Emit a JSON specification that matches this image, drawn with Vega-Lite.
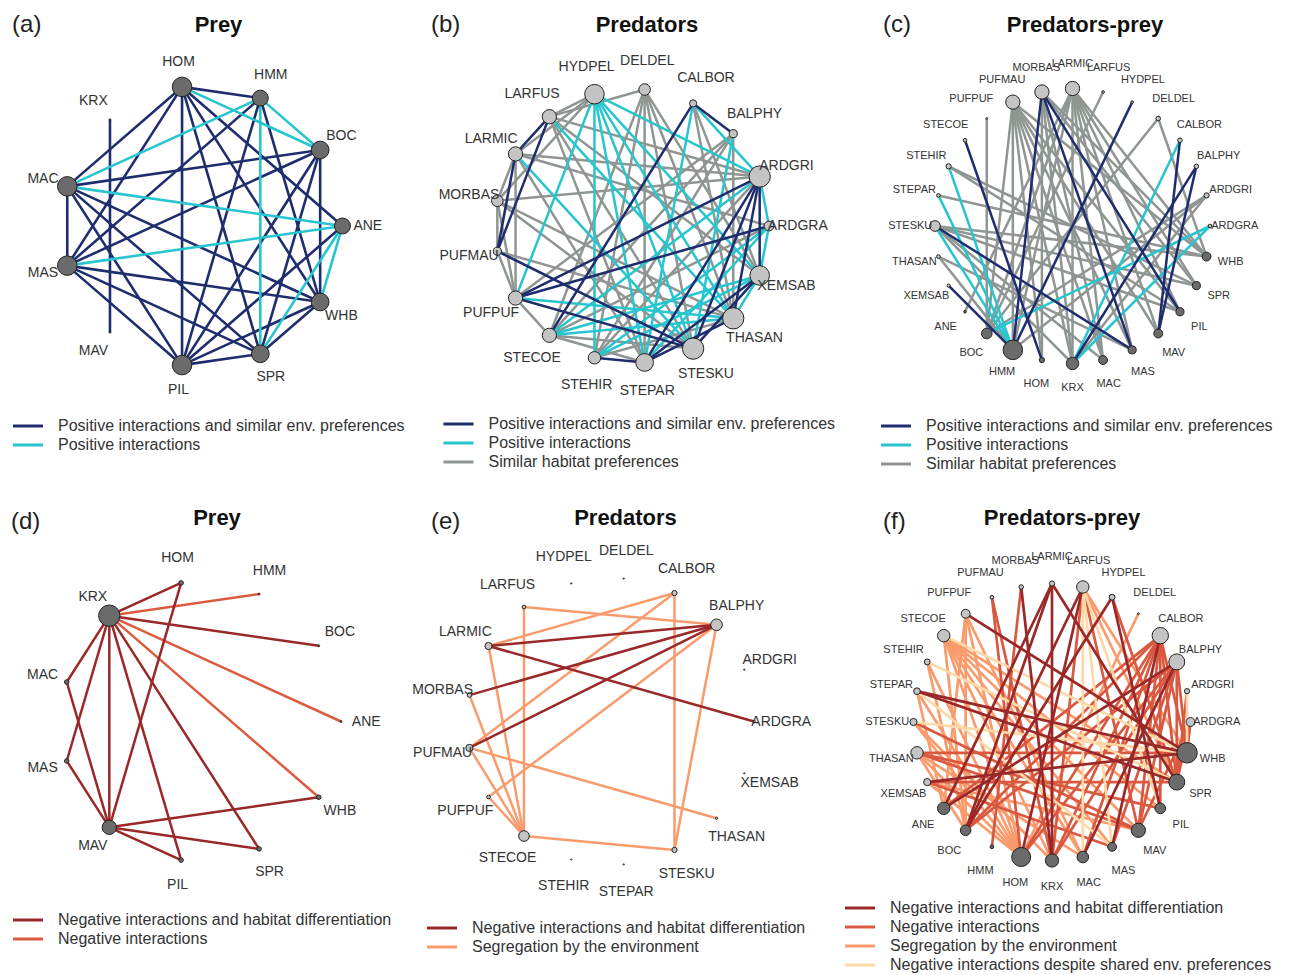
{
  "$schema": "https://vega.github.io/schema/vega-lite/v6.json",
  "background": "white",
  "padding": 0,
  "autosize": {"type": "pad"},
  "columns": 3,
  "spacing": 0,
  "bounds": "flush",
  "config": {
    "view": {"stroke": "transparent"},
    "font": "Liberation Sans",
    "title": {"fontSize": 22, "fontWeight": "bold", "color": "#111111", "anchor": "middle", "frame": "group", "baseline": "alphabetic"},
    "legend": {
      "orient": "none", "direction": "vertical", "padding": 0,
      "labelFontSize": 16, "labelColor": "#333333", "labelLimit": 600,
      "symbolType": "M-2,0H2", "symbolSize": 225, "symbolStrokeWidth": 3,
      "labelOffset": 21, "rowPadding": 2
    }
  },
  "resolve": {
    "scale": {"x": "independent", "y": "independent", "color": "independent", "size": "independent", "fill": "independent"},
    "legend": {"color": "independent"}
  },
  "datasets": {
    "prey_layout": [
      {"id": "ANE", "x": 1, "y": 0, "group": "prey"},
      {"id": "BOC", "x": 0.841, "y": 0.541, "group": "prey"},
      {"id": "HMM", "x": 0.415, "y": 0.91, "group": "prey"},
      {"id": "HOM", "x": -0.142, "y": 0.99, "group": "prey"},
      {"id": "KRX", "x": -0.655, "y": 0.756, "group": "prey"},
      {"id": "MAC", "x": -0.959, "y": 0.282, "group": "prey"},
      {"id": "MAS", "x": -0.959, "y": -0.282, "group": "prey"},
      {"id": "MAV", "x": -0.655, "y": -0.756, "group": "prey"},
      {"id": "PIL", "x": -0.142, "y": -0.99, "group": "prey"},
      {"id": "SPR", "x": 0.415, "y": -0.91, "group": "prey"},
      {"id": "WHB", "x": 0.841, "y": -0.541, "group": "prey"}
    ],
    "pred_layout": [
      {"id": "ARDGRA", "x": 1, "y": 0, "group": "predator"},
      {"id": "ARDGRI", "x": 0.932, "y": 0.361, "group": "predator"},
      {"id": "BALPHY", "x": 0.739, "y": 0.674, "group": "predator"},
      {"id": "CALBOR", "x": 0.446, "y": 0.895, "group": "predator"},
      {"id": "DELDEL", "x": 0.092, "y": 0.996, "group": "predator"},
      {"id": "HYDPEL", "x": -0.274, "y": 0.962, "group": "predator"},
      {"id": "LARFUS", "x": -0.603, "y": 0.798, "group": "predator"},
      {"id": "LARMIC", "x": -0.85, "y": 0.526, "group": "predator"},
      {"id": "MORBAS", "x": -0.983, "y": 0.184, "group": "predator"},
      {"id": "PUFMAU", "x": -0.983, "y": -0.184, "group": "predator"},
      {"id": "PUFPUF", "x": -0.85, "y": -0.526, "group": "predator"},
      {"id": "STECOE", "x": -0.603, "y": -0.798, "group": "predator"},
      {"id": "STEHIR", "x": -0.274, "y": -0.962, "group": "predator"},
      {"id": "STEPAR", "x": 0.092, "y": -0.996, "group": "predator"},
      {"id": "STESKU", "x": 0.446, "y": -0.895, "group": "predator"},
      {"id": "THASAN", "x": 0.739, "y": -0.674, "group": "predator"},
      {"id": "XEMSAB", "x": 0.932, "y": -0.361, "group": "predator"}
    ],
    "pp_layout": [
      {"id": "ARDGRA", "x": 1, "y": 0, "group": "predator"},
      {"id": "ARDGRI", "x": 0.9749, "y": 0.2225, "group": "predator"},
      {"id": "BALPHY", "x": 0.901, "y": 0.4339, "group": "predator"},
      {"id": "CALBOR", "x": 0.7818, "y": 0.6235, "group": "predator"},
      {"id": "DELDEL", "x": 0.6235, "y": 0.7818, "group": "predator"},
      {"id": "HYDPEL", "x": 0.4339, "y": 0.901, "group": "predator"},
      {"id": "LARFUS", "x": 0.2225, "y": 0.9749, "group": "predator"},
      {"id": "LARMIC", "x": 0, "y": 1, "group": "predator"},
      {"id": "MORBAS", "x": -0.2225, "y": 0.9749, "group": "predator"},
      {"id": "PUFMAU", "x": -0.4339, "y": 0.901, "group": "predator"},
      {"id": "PUFPUF", "x": -0.6235, "y": 0.7818, "group": "predator"},
      {"id": "STECOE", "x": -0.7818, "y": 0.6235, "group": "predator"},
      {"id": "STEHIR", "x": -0.901, "y": 0.4339, "group": "predator"},
      {"id": "STEPAR", "x": -0.9749, "y": 0.2225, "group": "predator"},
      {"id": "STESKU", "x": -1, "y": 0, "group": "predator"},
      {"id": "THASAN", "x": -0.9749, "y": -0.2225, "group": "predator"},
      {"id": "XEMSAB", "x": -0.901, "y": -0.4339, "group": "predator"},
      {"id": "ANE", "x": -0.7818, "y": -0.6235, "group": "prey"},
      {"id": "BOC", "x": -0.6235, "y": -0.7818, "group": "prey"},
      {"id": "HMM", "x": -0.4339, "y": -0.901, "group": "prey"},
      {"id": "HOM", "x": -0.2225, "y": -0.9749, "group": "prey"},
      {"id": "KRX", "x": 0, "y": -1, "group": "prey"},
      {"id": "MAC", "x": 0.2225, "y": -0.9749, "group": "prey"},
      {"id": "MAS", "x": 0.4339, "y": -0.901, "group": "prey"},
      {"id": "MAV", "x": 0.6235, "y": -0.7818, "group": "prey"},
      {"id": "PIL", "x": 0.7818, "y": -0.6235, "group": "prey"},
      {"id": "SPR", "x": 0.901, "y": -0.4339, "group": "prey"},
      {"id": "WHB", "x": 0.9749, "y": -0.2225, "group": "prey"}
    ],
    "nodes_a": [
      {"id": "HOM", "centrality": 11.1}, {"id": "HMM", "centrality": 7.4}, {"id": "BOC", "centrality": 9.1},
      {"id": "ANE", "centrality": 7.4}, {"id": "WHB", "centrality": 9.1}, {"id": "SPR", "centrality": 9.1},
      {"id": "PIL", "centrality": 11.1}, {"id": "MAV", "centrality": 0.1}, {"id": "MAS", "centrality": 11.1},
      {"id": "MAC", "centrality": 11.1}, {"id": "KRX", "centrality": 0.1}
    ],
    "nodes_d": [
      {"id": "HOM", "centrality": 0.6}, {"id": "HMM", "centrality": 0.1}, {"id": "BOC", "centrality": 0.1},
      {"id": "ANE", "centrality": 0.1}, {"id": "WHB", "centrality": 0.6}, {"id": "SPR", "centrality": 0.6},
      {"id": "PIL", "centrality": 0.6}, {"id": "MAV", "centrality": 5.9}, {"id": "MAS", "centrality": 0.6},
      {"id": "MAC", "centrality": 0.6}, {"id": "KRX", "centrality": 13.2}
    ],
    "nodes_b": [
      {"id": "HYDPEL", "centrality": 11.1}, {"id": "DELDEL", "centrality": 3.9}, {"id": "CALBOR", "centrality": 1.5},
      {"id": "BALPHY", "centrality": 1.9}, {"id": "ARDGRI", "centrality": 13.2}, {"id": "ARDGRA", "centrality": 2.8},
      {"id": "XEMSAB", "centrality": 11.1}, {"id": "THASAN", "centrality": 13.2}, {"id": "STESKU", "centrality": 13.2},
      {"id": "STEPAR", "centrality": 9.1}, {"id": "STEHIR", "centrality": 4.5}, {"id": "STECOE", "centrality": 5.9},
      {"id": "PUFPUF", "centrality": 5.9}, {"id": "PUFMAU", "centrality": 1.9}, {"id": "MORBAS", "centrality": 3.9},
      {"id": "LARMIC", "centrality": 5.9}, {"id": "LARFUS", "centrality": 5.9}
    ],
    "nodes_e": [
      {"id": "HYDPEL", "centrality": 0.05}, {"id": "DELDEL", "centrality": 0.05}, {"id": "CALBOR", "centrality": 0.8},
      {"id": "BALPHY", "centrality": 3.9}, {"id": "ARDGRI", "centrality": 0.05}, {"id": "ARDGRA", "centrality": 0.2},
      {"id": "XEMSAB", "centrality": 0.05}, {"id": "THASAN", "centrality": 0.15}, {"id": "STESKU", "centrality": 0.8},
      {"id": "STEPAR", "centrality": 0.05}, {"id": "STEHIR", "centrality": 0.05}, {"id": "STECOE", "centrality": 3.3},
      {"id": "PUFPUF", "centrality": 0.4}, {"id": "PUFMAU", "centrality": 1.5}, {"id": "MORBAS", "centrality": 0.6},
      {"id": "LARMIC", "centrality": 1.5}, {"id": "LARFUS", "centrality": 0.4}
    ],
    "nodes_c": [
      {"id": "ARDGRA", "centrality": 0.4}, {"id": "ARDGRI", "centrality": 0.8}, {"id": "BALPHY", "centrality": 0.6},
      {"id": "CALBOR", "centrality": 0.6}, {"id": "DELDEL", "centrality": 0.6}, {"id": "HYDPEL", "centrality": 0.2},
      {"id": "LARFUS", "centrality": 0.2}, {"id": "LARMIC", "centrality": 5.9}, {"id": "MORBAS", "centrality": 5.9},
      {"id": "PUFMAU", "centrality": 5.9}, {"id": "PUFPUF", "centrality": 0.1}, {"id": "STECOE", "centrality": 0.4},
      {"id": "STEHIR", "centrality": 0.8}, {"id": "STEPAR", "centrality": 0.4}, {"id": "STESKU", "centrality": 3.3},
      {"id": "THASAN", "centrality": 0.4}, {"id": "XEMSAB", "centrality": 0.3}, {"id": "ANE", "centrality": 0.2},
      {"id": "BOC", "centrality": 3.3}, {"id": "HMM", "centrality": 11.1}, {"id": "HOM", "centrality": 0.8},
      {"id": "KRX", "centrality": 4.5}, {"id": "MAC", "centrality": 2.3}, {"id": "MAS", "centrality": 1.9},
      {"id": "MAV", "centrality": 2.3}, {"id": "PIL", "centrality": 1.9}, {"id": "SPR", "centrality": 1.9},
      {"id": "WHB", "centrality": 2.3}
    ],
    "nodes_f": [
      {"id": "ARDGRA", "centrality": 2.3}, {"id": "ARDGRI", "centrality": 0.8}, {"id": "BALPHY", "centrality": 7.4},
      {"id": "CALBOR", "centrality": 7.8}, {"id": "DELDEL", "centrality": 0.1}, {"id": "HYDPEL", "centrality": 1.0},
      {"id": "LARFUS", "centrality": 4.5}, {"id": "LARMIC", "centrality": 0.8}, {"id": "MORBAS", "centrality": 0.6},
      {"id": "PUFMAU", "centrality": 0.4}, {"id": "PUFPUF", "centrality": 2.3}, {"id": "STECOE", "centrality": 4.5},
      {"id": "STEHIR", "centrality": 1.0}, {"id": "STEPAR", "centrality": 1.3}, {"id": "STESKU", "centrality": 1.5},
      {"id": "THASAN", "centrality": 4.5}, {"id": "XEMSAB", "centrality": 1.5}, {"id": "ANE", "centrality": 4.5},
      {"id": "BOC", "centrality": 3.3}, {"id": "HMM", "centrality": 0.4}, {"id": "HOM", "centrality": 10.5},
      {"id": "KRX", "centrality": 5.1}, {"id": "MAC", "centrality": 3.9}, {"id": "MAS", "centrality": 2.3},
      {"id": "MAV", "centrality": 5.9}, {"id": "PIL", "centrality": 3.3}, {"id": "SPR", "centrality": 7.4},
      {"id": "WHB", "centrality": 12.2}
    ],
    "edges_a": [
      {"source": "KRX", "target": "MAV", "type": "PE"}, {"source": "MAC", "target": "MAS", "type": "PE"},
      {"source": "HOM", "target": "HMM", "type": "PE"}, {"source": "HOM", "target": "PIL", "type": "PE"},
      {"source": "HOM", "target": "MAC", "type": "PE"}, {"source": "HOM", "target": "MAS", "type": "PE"},
      {"source": "HOM", "target": "ANE", "type": "PE"}, {"source": "HOM", "target": "WHB", "type": "PE"},
      {"source": "HOM", "target": "SPR", "type": "PE"}, {"source": "HMM", "target": "WHB", "type": "PE"},
      {"source": "HMM", "target": "MAS", "type": "PE"}, {"source": "HMM", "target": "PIL", "type": "PE"},
      {"source": "BOC", "target": "WHB", "type": "PE"}, {"source": "BOC", "target": "MAC", "type": "PE"},
      {"source": "BOC", "target": "MAS", "type": "PE"}, {"source": "BOC", "target": "SPR", "type": "PE"},
      {"source": "BOC", "target": "PIL", "type": "PE"}, {"source": "ANE", "target": "PIL", "type": "PE"},
      {"source": "WHB", "target": "MAS", "type": "PE"}, {"source": "WHB", "target": "MAC", "type": "PE"},
      {"source": "WHB", "target": "SPR", "type": "PE"}, {"source": "WHB", "target": "PIL", "type": "PE"},
      {"source": "SPR", "target": "MAC", "type": "PE"}, {"source": "SPR", "target": "MAS", "type": "PE"},
      {"source": "SPR", "target": "PIL", "type": "PE"}, {"source": "PIL", "target": "MAC", "type": "PE"},
      {"source": "PIL", "target": "MAS", "type": "PE"},
      {"source": "HOM", "target": "BOC", "type": "P"}, {"source": "HMM", "target": "BOC", "type": "P"},
      {"source": "HMM", "target": "MAC", "type": "P"}, {"source": "HMM", "target": "SPR", "type": "P"},
      {"source": "ANE", "target": "MAC", "type": "P"}, {"source": "ANE", "target": "MAS", "type": "P"},
      {"source": "ANE", "target": "WHB", "type": "P"}, {"source": "ANE", "target": "SPR", "type": "P"}
    ],
    "edges_d": [
      {"source": "KRX", "target": "HMM", "type": "N"}, {"source": "KRX", "target": "ANE", "type": "N"},
      {"source": "KRX", "target": "WHB", "type": "N"},
      {"source": "KRX", "target": "HOM", "type": "NH"}, {"source": "KRX", "target": "BOC", "type": "NH"},
      {"source": "KRX", "target": "SPR", "type": "NH"}, {"source": "KRX", "target": "PIL", "type": "NH"},
      {"source": "KRX", "target": "MAC", "type": "NH"}, {"source": "KRX", "target": "MAS", "type": "NH"},
      {"source": "KRX", "target": "MAV", "type": "NH"}, {"source": "HOM", "target": "MAV", "type": "NH"},
      {"source": "MAC", "target": "MAV", "type": "NH"}, {"source": "MAS", "target": "MAV", "type": "NH"},
      {"source": "MAV", "target": "WHB", "type": "NH"}, {"source": "MAV", "target": "SPR", "type": "NH"},
      {"source": "MAV", "target": "PIL", "type": "NH"}
    ],
    "edges_b": [
      {"source": "HYDPEL", "target": "LARFUS", "type": "E"}, {"source": "HYDPEL", "target": "LARMIC", "type": "E"},
      {"source": "HYDPEL", "target": "MORBAS", "type": "E"}, {"source": "DELDEL", "target": "LARFUS", "type": "E"},
      {"source": "DELDEL", "target": "STEPAR", "type": "E"}, {"source": "DELDEL", "target": "STESKU", "type": "E"},
      {"source": "DELDEL", "target": "THASAN", "type": "E"}, {"source": "DELDEL", "target": "STEHIR", "type": "E"},
      {"source": "DELDEL", "target": "STECOE", "type": "E"}, {"source": "DELDEL", "target": "XEMSAB", "type": "E"},
      {"source": "CALBOR", "target": "THASAN", "type": "E"}, {"source": "CALBOR", "target": "XEMSAB", "type": "E"},
      {"source": "BALPHY", "target": "STECOE", "type": "E"}, {"source": "BALPHY", "target": "STEHIR", "type": "E"},
      {"source": "BALPHY", "target": "THASAN", "type": "E"}, {"source": "BALPHY", "target": "PUFPUF", "type": "E"},
      {"source": "LARFUS", "target": "ARDGRI", "type": "E"}, {"source": "LARMIC", "target": "ARDGRI", "type": "E"},
      {"source": "MORBAS", "target": "ARDGRI", "type": "E"}, {"source": "LARFUS", "target": "XEMSAB", "type": "E"},
      {"source": "LARFUS", "target": "STEPAR", "type": "E"}, {"source": "LARFUS", "target": "STESKU", "type": "E"},
      {"source": "MORBAS", "target": "PUFPUF", "type": "E"}, {"source": "LARMIC", "target": "MORBAS", "type": "E"},
      {"source": "MORBAS", "target": "PUFMAU", "type": "E"}, {"source": "PUFMAU", "target": "PUFPUF", "type": "E"},
      {"source": "LARMIC", "target": "PUFPUF", "type": "E"}, {"source": "MORBAS", "target": "STESKU", "type": "E"},
      {"source": "MORBAS", "target": "THASAN", "type": "E"}, {"source": "STECOE", "target": "STESKU", "type": "E"},
      {"source": "STECOE", "target": "STEPAR", "type": "E"}, {"source": "STEHIR", "target": "THASAN", "type": "E"},
      {"source": "LARMIC", "target": "STEPAR", "type": "E"}, {"source": "ARDGRI", "target": "STEHIR", "type": "E"},
      {"source": "PUFMAU", "target": "THASAN", "type": "E"}, {"source": "STECOE", "target": "ARDGRA", "type": "E"},
      {"source": "LARMIC", "target": "ARDGRA", "type": "E"}, {"source": "PUFPUF", "target": "STECOE", "type": "E"},
      {"source": "HYDPEL", "target": "PUFPUF", "type": "P"}, {"source": "HYDPEL", "target": "STEHIR", "type": "P"},
      {"source": "HYDPEL", "target": "STEPAR", "type": "P"}, {"source": "HYDPEL", "target": "STESKU", "type": "P"},
      {"source": "HYDPEL", "target": "THASAN", "type": "P"}, {"source": "HYDPEL", "target": "XEMSAB", "type": "P"},
      {"source": "HYDPEL", "target": "ARDGRI", "type": "P"}, {"source": "LARFUS", "target": "THASAN", "type": "P"},
      {"source": "LARMIC", "target": "STESKU", "type": "P"}, {"source": "CALBOR", "target": "ARDGRI", "type": "P"},
      {"source": "CALBOR", "target": "STEPAR", "type": "P"}, {"source": "STECOE", "target": "ARDGRI", "type": "P"},
      {"source": "STECOE", "target": "XEMSAB", "type": "P"}, {"source": "STECOE", "target": "THASAN", "type": "P"},
      {"source": "STEHIR", "target": "XEMSAB", "type": "P"}, {"source": "STEHIR", "target": "ARDGRA", "type": "P"},
      {"source": "PUFPUF", "target": "THASAN", "type": "P"}, {"source": "ARDGRI", "target": "ARDGRA", "type": "P"},
      {"source": "ARDGRA", "target": "XEMSAB", "type": "P"}, {"source": "XEMSAB", "target": "THASAN", "type": "P"},
      {"source": "BALPHY", "target": "STESKU", "type": "P"}, {"source": "STEPAR", "target": "ARDGRA", "type": "P"},
      {"source": "LARFUS", "target": "LARMIC", "type": "PE"}, {"source": "LARFUS", "target": "PUFMAU", "type": "PE"},
      {"source": "LARMIC", "target": "PUFMAU", "type": "PE"}, {"source": "CALBOR", "target": "BALPHY", "type": "PE"},
      {"source": "CALBOR", "target": "STECOE", "type": "PE"}, {"source": "PUFPUF", "target": "ARDGRI", "type": "PE"},
      {"source": "PUFPUF", "target": "ARDGRA", "type": "PE"}, {"source": "PUFPUF", "target": "STESKU", "type": "PE"},
      {"source": "PUFMAU", "target": "STESKU", "type": "PE"}, {"source": "ARDGRI", "target": "XEMSAB", "type": "PE"},
      {"source": "ARDGRI", "target": "STEPAR", "type": "PE"}, {"source": "ARDGRI", "target": "STESKU", "type": "PE"},
      {"source": "ARDGRI", "target": "THASAN", "type": "PE"}, {"source": "STEHIR", "target": "STEPAR", "type": "PE"},
      {"source": "STEPAR", "target": "XEMSAB", "type": "PE"}, {"source": "STEPAR", "target": "THASAN", "type": "PE"},
      {"source": "STESKU", "target": "XEMSAB", "type": "PE"}
    ],
    "edges_e": [
      {"source": "LARFUS", "target": "BALPHY", "type": "S"}, {"source": "LARFUS", "target": "STECOE", "type": "S"},
      {"source": "LARMIC", "target": "CALBOR", "type": "S"}, {"source": "LARMIC", "target": "STECOE", "type": "S"},
      {"source": "MORBAS", "target": "STECOE", "type": "S"}, {"source": "PUFMAU", "target": "STECOE", "type": "S"},
      {"source": "PUFMAU", "target": "CALBOR", "type": "S"}, {"source": "PUFMAU", "target": "THASAN", "type": "S"},
      {"source": "PUFPUF", "target": "STECOE", "type": "S"}, {"source": "PUFPUF", "target": "BALPHY", "type": "S"},
      {"source": "CALBOR", "target": "STESKU", "type": "S"}, {"source": "BALPHY", "target": "STESKU", "type": "S"},
      {"source": "STECOE", "target": "STESKU", "type": "S"},
      {"source": "LARMIC", "target": "BALPHY", "type": "NH"}, {"source": "LARMIC", "target": "ARDGRA", "type": "NH"},
      {"source": "MORBAS", "target": "BALPHY", "type": "NH"}, {"source": "PUFMAU", "target": "BALPHY", "type": "NH"}
    ],
    "edges_c": [
      {"source": "PUFMAU", "target": "BOC", "type": "E"}, {"source": "PUFMAU", "target": "HMM", "type": "E"},
      {"source": "PUFMAU", "target": "HOM", "type": "E"}, {"source": "PUFMAU", "target": "KRX", "type": "E"},
      {"source": "PUFMAU", "target": "MAC", "type": "E"}, {"source": "PUFMAU", "target": "MAS", "type": "E"},
      {"source": "PUFMAU", "target": "MAV", "type": "E"}, {"source": "PUFMAU", "target": "PIL", "type": "E"},
      {"source": "PUFMAU", "target": "WHB", "type": "E"}, {"source": "MORBAS", "target": "HOM", "type": "E"},
      {"source": "MORBAS", "target": "KRX", "type": "E"}, {"source": "MORBAS", "target": "MAC", "type": "E"},
      {"source": "MORBAS", "target": "SPR", "type": "E"}, {"source": "MORBAS", "target": "WHB", "type": "E"},
      {"source": "LARMIC", "target": "HMM", "type": "E"}, {"source": "LARMIC", "target": "KRX", "type": "E"},
      {"source": "LARMIC", "target": "MAC", "type": "E"}, {"source": "LARMIC", "target": "MAS", "type": "E"},
      {"source": "LARMIC", "target": "MAV", "type": "E"}, {"source": "LARMIC", "target": "PIL", "type": "E"},
      {"source": "LARMIC", "target": "SPR", "type": "E"}, {"source": "LARMIC", "target": "WHB", "type": "E"},
      {"source": "LARMIC", "target": "BOC", "type": "E"}, {"source": "LARMIC", "target": "ANE", "type": "E"},
      {"source": "LARFUS", "target": "BOC", "type": "E"}, {"source": "DELDEL", "target": "BOC", "type": "E"},
      {"source": "DELDEL", "target": "WHB", "type": "E"}, {"source": "ARDGRI", "target": "HMM", "type": "E"},
      {"source": "ARDGRI", "target": "KRX", "type": "E"}, {"source": "ARDGRI", "target": "BOC", "type": "E"},
      {"source": "STEHIR", "target": "SPR", "type": "E"}, {"source": "STEHIR", "target": "PIL", "type": "E"},
      {"source": "STEPAR", "target": "WHB", "type": "E"},
      {"source": "STESKU", "target": "WHB", "type": "E"}, {"source": "STESKU", "target": "SPR", "type": "E"},
      {"source": "STESKU", "target": "PIL", "type": "E"}, {"source": "STESKU", "target": "MAC", "type": "E"},
      {"source": "STESKU", "target": "KRX", "type": "E"}, {"source": "THASAN", "target": "HMM", "type": "E"},
      {"source": "THASAN", "target": "MAS", "type": "E"}, {"source": "PUFPUF", "target": "BOC", "type": "E"},
      {"source": "STEHIR", "target": "HMM", "type": "P"}, {"source": "STEPAR", "target": "HMM", "type": "P"},
      {"source": "STESKU", "target": "HMM", "type": "P"}, {"source": "ARDGRA", "target": "BOC", "type": "P"},
      {"source": "ARDGRA", "target": "KRX", "type": "P"}, {"source": "CALBOR", "target": "KRX", "type": "P"},
      {"source": "STECOE", "target": "HOM", "type": "PE"}, {"source": "XEMSAB", "target": "HMM", "type": "PE"},
      {"source": "HYDPEL", "target": "HMM", "type": "PE"}, {"source": "MORBAS", "target": "HMM", "type": "PE"},
      {"source": "MORBAS", "target": "PIL", "type": "PE"}, {"source": "MORBAS", "target": "MAS", "type": "PE"},
      {"source": "CALBOR", "target": "MAV", "type": "PE"}, {"source": "BALPHY", "target": "MAV", "type": "PE"},
      {"source": "BALPHY", "target": "KRX", "type": "PE"}, {"source": "STESKU", "target": "MAS", "type": "PE"}
    ],
    "edges_f": [
      {"source": "STECOE", "target": "HOM", "type": "S"}, {"source": "STECOE", "target": "KRX", "type": "S"},
      {"source": "STECOE", "target": "BOC", "type": "S"}, {"source": "STECOE", "target": "MAC", "type": "S"},
      {"source": "STECOE", "target": "MAS", "type": "S"}, {"source": "STECOE", "target": "MAV", "type": "S"},
      {"source": "STECOE", "target": "SPR", "type": "S"}, {"source": "STECOE", "target": "PIL", "type": "S"},
      {"source": "STEHIR", "target": "HOM", "type": "S"}, {"source": "STEHIR", "target": "BOC", "type": "S"},
      {"source": "STEPAR", "target": "HOM", "type": "S"}, {"source": "STEPAR", "target": "ANE", "type": "S"},
      {"source": "STESKU", "target": "HOM", "type": "S"}, {"source": "STESKU", "target": "KRX", "type": "S"},
      {"source": "THASAN", "target": "HOM", "type": "S"}, {"source": "THASAN", "target": "MAC", "type": "S"},
      {"source": "THASAN", "target": "BOC", "type": "S"}, {"source": "XEMSAB", "target": "HOM", "type": "S"},
      {"source": "XEMSAB", "target": "MAV", "type": "S"}, {"source": "PUFPUF", "target": "HOM", "type": "S"},
      {"source": "PUFPUF", "target": "MAC", "type": "S"}, {"source": "PUFPUF", "target": "BOC", "type": "S"},
      {"source": "PUFPUF", "target": "ANE", "type": "S"}, {"source": "DELDEL", "target": "HOM", "type": "S"},
      {"source": "LARFUS", "target": "SPR", "type": "S"}, {"source": "LARFUS", "target": "WHB", "type": "S"},
      {"source": "MORBAS", "target": "HMM", "type": "N"}, {"source": "PUFMAU", "target": "HOM", "type": "N"},
      {"source": "PUFMAU", "target": "KRX", "type": "N"}, {"source": "THASAN", "target": "WHB", "type": "N"},
      {"source": "XEMSAB", "target": "SPR", "type": "N"},
      {"source": "XEMSAB", "target": "MAS", "type": "N"}, {"source": "CALBOR", "target": "HOM", "type": "N"},
      {"source": "CALBOR", "target": "KRX", "type": "N"}, {"source": "CALBOR", "target": "MAC", "type": "N"},
      {"source": "CALBOR", "target": "BOC", "type": "N"}, {"source": "CALBOR", "target": "WHB", "type": "N"},
      {"source": "CALBOR", "target": "SPR", "type": "N"}, {"source": "CALBOR", "target": "PIL", "type": "N"},
      {"source": "CALBOR", "target": "MAV", "type": "N"}, {"source": "CALBOR", "target": "ANE", "type": "N"},
      {"source": "BALPHY", "target": "HOM", "type": "N"}, {"source": "BALPHY", "target": "KRX", "type": "N"},
      {"source": "BALPHY", "target": "BOC", "type": "N"}, {"source": "BALPHY", "target": "WHB", "type": "N"},
      {"source": "BALPHY", "target": "SPR", "type": "N"}, {"source": "BALPHY", "target": "MAV", "type": "N"},
      {"source": "BALPHY", "target": "MAS", "type": "N"}, {"source": "ARDGRA", "target": "WHB", "type": "N"},
      {"source": "ARDGRA", "target": "SPR", "type": "N"}, {"source": "ARDGRA", "target": "MAV", "type": "N"},
      {"source": "LARFUS", "target": "KRX", "type": "N"}, {"source": "LARFUS", "target": "MAV", "type": "N"},
      {"source": "HYDPEL", "target": "SPR", "type": "N"}, {"source": "STESKU", "target": "MAV", "type": "N"},
      {"source": "THASAN", "target": "PIL", "type": "N"}, {"source": "THASAN", "target": "MAV", "type": "N"},
      {"source": "ARDGRI", "target": "SPR", "type": "N"},
      {"source": "LARFUS", "target": "PIL", "type": "NS"}, {"source": "LARFUS", "target": "MAC", "type": "NS"},
      {"source": "LARFUS", "target": "MAS", "type": "NS"}, {"source": "ARDGRI", "target": "WHB", "type": "NS"},
      {"source": "STECOE", "target": "WHB", "type": "NS"}, {"source": "STESKU", "target": "WHB", "type": "NS"},
      {"source": "STEHIR", "target": "SPR", "type": "NS"}, {"source": "STEPAR", "target": "MAS", "type": "NS"},
      {"source": "LARMIC", "target": "ANE", "type": "NH"}, {"source": "LARMIC", "target": "BOC", "type": "NH"},
      {"source": "LARMIC", "target": "KRX", "type": "NH"}, {"source": "LARMIC", "target": "SPR", "type": "NH"},
      {"source": "PUFPUF", "target": "WHB", "type": "NH"}, {"source": "STEPAR", "target": "SPR", "type": "NH"},
      {"source": "STEPAR", "target": "WHB", "type": "NH"}, {"source": "ANE", "target": "BALPHY", "type": "NH"},
      {"source": "HYDPEL", "target": "BOC", "type": "NH"}, {"source": "HYDPEL", "target": "PIL", "type": "NH"},
      {"source": "LARFUS", "target": "BOC", "type": "NH"}, {"source": "LARFUS", "target": "HOM", "type": "NH"},
      {"source": "XEMSAB", "target": "WHB", "type": "NH"}, {"source": "MORBAS", "target": "KRX", "type": "NH"},
      {"source": "CALBOR", "target": "MAS", "type": "NH"}, {"source": "BALPHY", "target": "MAC", "type": "NH"}
    ]
  },
  "concat": [
    {
      "width": 431, "height": 487,
      "title": {"text": "Prey", "offset": -36, "dx": 2},
      "layer": [
        {
          "data": {"name": "edges_a"},
          "transform": [
            {"lookup": "source", "from": {"data": {"name": "prey_layout"}, "key": "id", "fields": ["x", "y"]}, "as": ["x1", "y1"]},
            {"lookup": "target", "from": {"data": {"name": "prey_layout"}, "key": "id", "fields": ["x", "y"]}, "as": ["x2", "y2"]}
          ],
          "mark": {"type": "rule", "strokeWidth": 2.6},
          "encoding": {
            "x": {"field": "x1", "type": "quantitative", "scale": {"domain": [-1.4306, 1.637], "nice": false, "zero": false}, "axis": null},
            "y": {"field": "y1", "type": "quantitative", "scale": {"domain": [-1.8648, 1.6014], "nice": false, "zero": false}, "axis": null},
            "x2": {"field": "x2"},
            "y2": {"field": "y2"},
            "color": {
              "field": "type", "type": "nominal",
              "scale": {"domain": ["PE", "P"], "range": ["#1f2d6e", "#27c5cf"]},
              "legend": {"title": null, "legendX": 18, "legendY": 416,
                "labelExpr": "{'PE': 'Positive interactions and similar env. preferences', 'P': 'Positive interactions'}[datum.label]"}
            }
          }
        },
        {
          "data": {"name": "nodes_a"},
          "transform": [{"lookup": "id", "from": {"data": {"name": "prey_layout"}, "key": "id", "fields": ["x", "y", "group"]}}],
          "mark": {"type": "circle", "opacity": 1, "stroke": "#222222", "strokeWidth": 1},
          "encoding": {
            "x": {"field": "x", "type": "quantitative", "scale": {"domain": [-1.4306, 1.637], "nice": false, "zero": false}, "axis": null},
            "y": {"field": "y", "type": "quantitative", "scale": {"domain": [-1.8648, 1.6014], "nice": false, "zero": false}, "axis": null},
            "size": {"field": "centrality", "type": "quantitative", "scale": {"domain": [0, 16], "range": [0, 550]}, "legend": null},
            "fill": {"field": "group", "type": "nominal", "scale": {"domain": ["prey", "predator"], "range": ["#6b6b6b", "#c4c4c4"]}, "legend": null}
          }
        },
        {
          "data": {"name": "prey_layout"},
          "transform": [{"calculate": "datum.x * 1.18", "as": "lx"}, {"calculate": "datum.y * 1.18", "as": "ly"}],
          "mark": {"type": "text", "fontSize": 14, "color": "#333333"},
          "encoding": {
            "x": {"field": "lx", "type": "quantitative", "scale": {"domain": [-1.4306, 1.637], "nice": false, "zero": false}, "axis": null},
            "y": {"field": "ly", "type": "quantitative", "scale": {"domain": [-1.8648, 1.6014], "nice": false, "zero": false}, "axis": null},
            "text": {"field": "id"}
          }
        },
        {
          "data": {"values": [{"tag": "(a)"}]},
          "mark": {"type": "text", "align": "left", "baseline": "alphabetic", "fontSize": 24, "color": "#222222"},
          "encoding": {
            "x": {"datum": -1.352, "type": "quantitative"},
            "y": {"datum": 1.381, "type": "quantitative"},
            "text": {"field": "tag"}
          }
        }
      ]
    },
    {
      "width": 430, "height": 487,
      "title": {"text": "Predators", "offset": -36, "dx": 0},
      "layer": [
        {
          "data": {"name": "edges_b"},
          "transform": [
            {"lookup": "source", "from": {"data": {"name": "pred_layout"}, "key": "id", "fields": ["x", "y"]}, "as": ["x1", "y1"]},
            {"lookup": "target", "from": {"data": {"name": "pred_layout"}, "key": "id", "fields": ["x", "y"]}, "as": ["x2", "y2"]}
          ],
          "mark": {"type": "rule", "strokeWidth": 2.5},
          "encoding": {
            "x": {"field": "x1", "type": "quantitative", "scale": {"domain": [-1.4599, 1.6788], "nice": false, "zero": false}, "axis": null},
            "y": {"field": "y1", "type": "quantitative", "scale": {"domain": [-1.9124, 1.6423], "nice": false, "zero": false}, "axis": null},
            "x2": {"field": "x2"},
            "y2": {"field": "y2"},
            "color": {
              "field": "type", "type": "nominal",
              "scale": {"domain": ["PE", "P", "E"], "range": ["#1f2d6e", "#27c5cf", "#8f9692"]},
              "legend": {"title": null, "legendX": 17.5, "legendY": 414,
                "labelExpr": "{'PE': 'Positive interactions and similar env. preferences', 'P': 'Positive interactions', 'E': 'Similar habitat preferences'}[datum.label]"}
            }
          }
        },
        {
          "data": {"name": "nodes_b"},
          "transform": [{"lookup": "id", "from": {"data": {"name": "pred_layout"}, "key": "id", "fields": ["x", "y", "group"]}}],
          "mark": {"type": "circle", "opacity": 1, "stroke": "#222222", "strokeWidth": 1},
          "encoding": {
            "x": {"field": "x", "type": "quantitative", "scale": {"domain": [-1.4599, 1.6788], "nice": false, "zero": false}, "axis": null},
            "y": {"field": "y", "type": "quantitative", "scale": {"domain": [-1.9124, 1.6423], "nice": false, "zero": false}, "axis": null},
            "size": {"field": "centrality", "type": "quantitative", "scale": {"domain": [0, 16], "range": [0, 550]}, "legend": null},
            "fill": {"field": "group", "type": "nominal", "scale": {"domain": ["prey", "predator"], "range": ["#6b6b6b", "#c4c4c4"]}, "legend": null}
          }
        },
        {
          "data": {"name": "pred_layout"},
          "transform": [{"calculate": "datum.x * 1.21", "as": "lx"}, {"calculate": "datum.y * 1.21", "as": "ly"}],
          "mark": {"type": "text", "fontSize": 14, "color": "#333333"},
          "encoding": {
            "x": {"field": "lx", "type": "quantitative", "scale": {"domain": [-1.4599, 1.6788], "nice": false, "zero": false}, "axis": null},
            "y": {"field": "ly", "type": "quantitative", "scale": {"domain": [-1.9124, 1.6423], "nice": false, "zero": false}, "axis": null},
            "text": {"field": "id"}
          }
        },
        {
          "data": {"values": [{"tag": "(b)"}]},
          "mark": {"type": "text", "align": "left", "baseline": "alphabetic", "fontSize": 24, "color": "#222222"},
          "encoding": {
            "x": {"datum": -1.467, "type": "quantitative"},
            "y": {"datum": 1.416, "type": "quantitative"},
            "text": {"field": "tag"}
          }
        }
      ]
    },
    {
      "width": 431, "height": 487,
      "title": {"text": "Predators-prey", "offset": -36, "dx": 7.5},
      "layer": [
        {
          "data": {"name": "edges_c"},
          "transform": [
            {"lookup": "source", "from": {"data": {"name": "pp_layout"}, "key": "id", "fields": ["x", "y"]}, "as": ["x1", "y1"]},
            {"lookup": "target", "from": {"data": {"name": "pp_layout"}, "key": "id", "fields": ["x", "y"]}, "as": ["x2", "y2"]}
          ],
          "mark": {"type": "rule", "strokeWidth": 2.5},
          "encoding": {
            "x": {"field": "x1", "type": "quantitative", "scale": {"domain": [-1.5309, 1.6036], "nice": false, "zero": false}, "axis": null},
            "y": {"field": "y1", "type": "quantitative", "scale": {"domain": [-1.9055, 1.6364], "nice": false, "zero": false}, "axis": null},
            "x2": {"field": "x2"},
            "y2": {"field": "y2"},
            "color": {
              "field": "type", "type": "nominal",
              "scale": {"domain": ["PE", "P", "E"], "range": ["#1f2d6e", "#27c5cf", "#8f9692"]},
              "legend": {"title": null, "legendX": 25, "legendY": 416,
                "labelExpr": "{'PE': 'Positive interactions and similar env. preferences', 'P': 'Positive interactions', 'E': 'Similar habitat preferences'}[datum.label]"}
            }
          }
        },
        {
          "data": {"name": "nodes_c"},
          "transform": [{"lookup": "id", "from": {"data": {"name": "pp_layout"}, "key": "id", "fields": ["x", "y", "group"]}}],
          "mark": {"type": "circle", "opacity": 1, "stroke": "#222222", "strokeWidth": 1},
          "encoding": {
            "x": {"field": "x", "type": "quantitative", "scale": {"domain": [-1.5309, 1.6036], "nice": false, "zero": false}, "axis": null},
            "y": {"field": "y", "type": "quantitative", "scale": {"domain": [-1.9055, 1.6364], "nice": false, "zero": false}, "axis": null},
            "size": {"field": "centrality", "type": "quantitative", "scale": {"domain": [0, 16], "range": [0, 550]}, "legend": null},
            "fill": {"field": "group", "type": "nominal", "scale": {"domain": ["prey", "predator"], "range": ["#6b6b6b", "#c4c4c4"]}, "legend": null}
          }
        },
        {
          "data": {"name": "pp_layout"},
          "transform": [{"calculate": "datum.x * 1.18", "as": "lx"}, {"calculate": "datum.y * 1.18", "as": "ly"}],
          "mark": {"type": "text", "fontSize": 11, "color": "#333333"},
          "encoding": {
            "x": {"field": "lx", "type": "quantitative", "scale": {"domain": [-1.5309, 1.6036], "nice": false, "zero": false}, "axis": null},
            "y": {"field": "ly", "type": "quantitative", "scale": {"domain": [-1.9055, 1.6364], "nice": false, "zero": false}, "axis": null},
            "text": {"field": "id"}
          }
        },
        {
          "data": {"values": [{"tag": "(c)"}]},
          "mark": {"type": "text", "align": "left", "baseline": "alphabetic", "fontSize": 24, "color": "#222222"},
          "encoding": {
            "x": {"datum": -1.378, "type": "quantitative"},
            "y": {"datum": 1.411, "type": "quantitative"},
            "text": {"field": "tag"}
          }
        }
      ]
    },
    {
      "width": 431, "height": 488,
      "title": {"text": "Prey", "offset": -42, "dx": 0.5},
      "layer": [
        {
          "data": {"name": "edges_d"},
          "transform": [
            {"lookup": "source", "from": {"data": {"name": "prey_layout"}, "key": "id", "fields": ["x", "y"]}, "as": ["x1", "y1"]},
            {"lookup": "target", "from": {"data": {"name": "prey_layout"}, "key": "id", "fields": ["x", "y"]}, "as": ["x2", "y2"]}
          ],
          "mark": {"type": "rule", "strokeWidth": 2.5},
          "encoding": {
            "x": {"field": "x1", "type": "quantitative", "scale": {"domain": [-1.4286, 1.65], "nice": false, "zero": false}, "axis": null},
            "y": {"field": "y1", "type": "quantitative", "scale": {"domain": [-1.8179, 1.6679], "nice": false, "zero": false}, "axis": null},
            "x2": {"field": "x2"},
            "y2": {"field": "y2"},
            "color": {
              "field": "type", "type": "nominal",
              "scale": {"domain": ["NH", "N"], "range": ["#9a2828", "#dc5b3f"]},
              "legend": {"title": null, "legendX": 18, "legendY": 423,
                "labelExpr": "{'NH': 'Negative interactions and habitat differentiation', 'N': 'Negative interactions'}[datum.label]"}
            }
          }
        },
        {
          "data": {"name": "nodes_d"},
          "transform": [{"lookup": "id", "from": {"data": {"name": "prey_layout"}, "key": "id", "fields": ["x", "y", "group"]}}],
          "mark": {"type": "circle", "opacity": 1, "stroke": "#222222", "strokeWidth": 1},
          "encoding": {
            "x": {"field": "x", "type": "quantitative", "scale": {"domain": [-1.4286, 1.65], "nice": false, "zero": false}, "axis": null},
            "y": {"field": "y", "type": "quantitative", "scale": {"domain": [-1.8179, 1.6679], "nice": false, "zero": false}, "axis": null},
            "size": {"field": "centrality", "type": "quantitative", "scale": {"domain": [0, 16], "range": [0, 550]}, "legend": null},
            "fill": {"field": "group", "type": "nominal", "scale": {"domain": ["prey", "predator"], "range": ["#6b6b6b", "#c4c4c4"]}, "legend": null}
          }
        },
        {
          "data": {"name": "prey_layout"},
          "transform": [{"calculate": "datum.x * 1.18", "as": "lx"}, {"calculate": "datum.y * 1.18", "as": "ly"}],
          "mark": {"type": "text", "fontSize": 14, "color": "#333333"},
          "encoding": {
            "x": {"field": "lx", "type": "quantitative", "scale": {"domain": [-1.4286, 1.65], "nice": false, "zero": false}, "axis": null},
            "y": {"field": "ly", "type": "quantitative", "scale": {"domain": [-1.8179, 1.6679], "nice": false, "zero": false}, "axis": null},
            "text": {"field": "id"}
          }
        },
        {
          "data": {"values": [{"tag": "(d)"}]},
          "mark": {"type": "text", "align": "left", "baseline": "alphabetic", "fontSize": 24, "color": "#222222"},
          "encoding": {
            "x": {"datum": -1.357, "type": "quantitative"},
            "y": {"datum": 1.375, "type": "quantitative"},
            "text": {"field": "tag"}
          }
        }
      ]
    },
    {
      "width": 430, "height": 488,
      "title": {"text": "Predators", "offset": -42, "dx": -21.5},
      "layer": [
        {
          "data": {"name": "edges_e"},
          "transform": [
            {"lookup": "source", "from": {"data": {"name": "pred_layout"}, "key": "id", "fields": ["x", "y"]}, "as": ["x1", "y1"]},
            {"lookup": "target", "from": {"data": {"name": "pred_layout"}, "key": "id", "fields": ["x", "y"]}, "as": ["x2", "y2"]}
          ],
          "mark": {"type": "rule", "strokeWidth": 2.5},
          "encoding": {
            "x": {"field": "x1", "type": "quantitative", "scale": {"domain": [-1.2439, 1.7526], "nice": false, "zero": false}, "axis": null},
            "y": {"field": "y1", "type": "quantitative", "scale": {"domain": [-1.7735, 1.6272], "nice": false, "zero": false}, "axis": null},
            "x2": {"field": "x2"},
            "y2": {"field": "y2"},
            "color": {
              "field": "type", "type": "nominal",
              "scale": {"domain": ["NH", "S"], "range": ["#9a2828", "#f99b6d"]},
              "legend": {"title": null, "legendX": 1, "legendY": 431,
                "labelExpr": "{'NH': 'Negative interactions and habitat differentiation', 'S': 'Segregation by the environment'}[datum.label]"}
            }
          }
        },
        {
          "data": {"name": "nodes_e"},
          "transform": [{"lookup": "id", "from": {"data": {"name": "pred_layout"}, "key": "id", "fields": ["x", "y", "group"]}}],
          "mark": {"type": "circle", "opacity": 1, "stroke": "#222222", "strokeWidth": 1},
          "encoding": {
            "x": {"field": "x", "type": "quantitative", "scale": {"domain": [-1.2439, 1.7526], "nice": false, "zero": false}, "axis": null},
            "y": {"field": "y", "type": "quantitative", "scale": {"domain": [-1.7735, 1.6272], "nice": false, "zero": false}, "axis": null},
            "size": {"field": "centrality", "type": "quantitative", "scale": {"domain": [0, 16], "range": [0, 550]}, "legend": null},
            "fill": {"field": "group", "type": "nominal", "scale": {"domain": ["prey", "predator"], "range": ["#6b6b6b", "#c4c4c4"]}, "legend": null}
          }
        },
        {
          "data": {"name": "pred_layout"},
          "transform": [{"calculate": "datum.x * 1.19", "as": "lx"}, {"calculate": "datum.y * 1.19", "as": "ly"}],
          "mark": {"type": "text", "fontSize": 14, "color": "#333333"},
          "encoding": {
            "x": {"field": "lx", "type": "quantitative", "scale": {"domain": [-1.2439, 1.7526], "nice": false, "zero": false}, "axis": null},
            "y": {"field": "ly", "type": "quantitative", "scale": {"domain": [-1.7735, 1.6272], "nice": false, "zero": false}, "axis": null},
            "text": {"field": "id"}
          }
        },
        {
          "data": {"values": [{"tag": "(e)"}]},
          "mark": {"type": "text", "align": "left", "baseline": "alphabetic", "fontSize": 24, "color": "#222222"},
          "encoding": {
            "x": {"datum": -1.251, "type": "quantitative"},
            "y": {"datum": 1.341, "type": "quantitative"},
            "text": {"field": "tag"}
          }
        }
      ]
    },
    {
      "width": 431, "height": 488,
      "title": {"text": "Predators-prey", "offset": -42, "dx": -15.5},
      "layer": [
        {
          "data": {"name": "edges_f"},
          "transform": [
            {"lookup": "source", "from": {"data": {"name": "pp_layout"}, "key": "id", "fields": ["x", "y"]}, "as": ["x1", "y1"]},
            {"lookup": "target", "from": {"data": {"name": "pp_layout"}, "key": "id", "fields": ["x", "y"]}, "as": ["x2", "y2"]}
          ],
          "mark": {"type": "rule", "strokeWidth": 2.7},
          "encoding": {
            "x": {"field": "x1", "type": "quantitative", "scale": {"domain": [-1.3718, 1.7401], "nice": false, "zero": false}, "axis": null},
            "y": {"field": "y1", "type": "quantitative", "scale": {"domain": [-1.8339, 1.6895], "nice": false, "zero": false}, "axis": null},
            "x2": {"field": "x2"},
            "y2": {"field": "y2"},
            "color": {
              "field": "type", "type": "nominal",
              "scale": {"domain": ["NH", "N", "S", "NS"], "range": ["#9a2828", "#d9583f", "#f99b6d", "#fdd9a8"]},
              "legend": {"title": null, "legendX": -11, "legendY": 411,
                "labelExpr": "{'NH': 'Negative interactions and habitat differentiation', 'N': 'Negative interactions', 'S': 'Segregation by the environment', 'NS': 'Negative interactions despite shared env. preferences'}[datum.label]"}
            }
          }
        },
        {
          "data": {"name": "nodes_f"},
          "transform": [{"lookup": "id", "from": {"data": {"name": "pp_layout"}, "key": "id", "fields": ["x", "y", "group"]}}],
          "mark": {"type": "circle", "opacity": 1, "stroke": "#222222", "strokeWidth": 1},
          "encoding": {
            "x": {"field": "x", "type": "quantitative", "scale": {"domain": [-1.3718, 1.7401], "nice": false, "zero": false}, "axis": null},
            "y": {"field": "y", "type": "quantitative", "scale": {"domain": [-1.8339, 1.6895], "nice": false, "zero": false}, "axis": null},
            "size": {"field": "centrality", "type": "quantitative", "scale": {"domain": [0, 16], "range": [0, 550]}, "legend": null},
            "fill": {"field": "group", "type": "nominal", "scale": {"domain": ["prey", "predator"], "range": ["#6b6b6b", "#c4c4c4"]}, "legend": null}
          }
        },
        {
          "data": {"name": "pp_layout"},
          "transform": [{"calculate": "datum.x * 1.19", "as": "lx"}, {"calculate": "datum.y * 1.19", "as": "ly"}],
          "mark": {"type": "text", "fontSize": 11, "color": "#333333"},
          "encoding": {
            "x": {"field": "lx", "type": "quantitative", "scale": {"domain": [-1.3718, 1.7401], "nice": false, "zero": false}, "axis": null},
            "y": {"field": "ly", "type": "quantitative", "scale": {"domain": [-1.8339, 1.6895], "nice": false, "zero": false}, "axis": null},
            "text": {"field": "id"}
          }
        },
        {
          "data": {"values": [{"tag": "(f)"}]},
          "mark": {"type": "text", "align": "left", "baseline": "alphabetic", "fontSize": 24, "color": "#222222"},
          "encoding": {
            "x": {"datum": -1.22, "type": "quantitative"},
            "y": {"datum": 1.394, "type": "quantitative"},
            "text": {"field": "tag"}
          }
        }
      ]
    }
  ]
}
